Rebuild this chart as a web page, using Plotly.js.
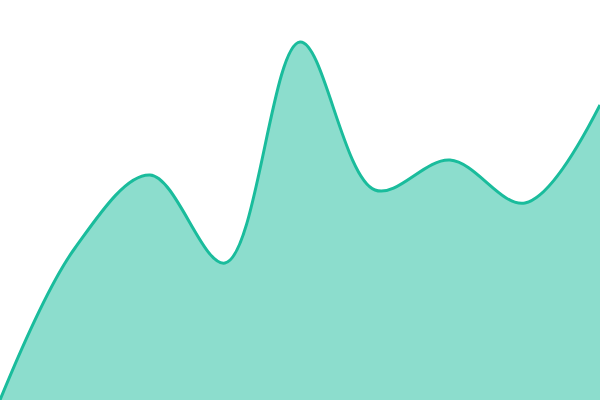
<!DOCTYPE html>
<html>
<head>
<meta charset="utf-8">
<script src="https://cdn.plot.ly/plotly-3.0.1.min.js"></script>
<style>
  html, body { margin: 0; padding: 0; background: #fff; }
  #chart { width: 600px; height: 400px; }
</style>
</head>
<body>
<div id="chart"></div>
<script>
// one point per step along the x axis
const steps = [0, 1, 2, 3, 4, 5, 6, 7, 8];
const values = [0, 152, 225, 137, 358, 210, 240, 197, 295];

const trace = {
  x: steps,
  y: values,
  type: "scatter",
  mode: "lines",
  fill: "tozeroy",
  fillcolor: "rgba(26, 188, 156, 0.5)",
  line: { color: "#1abc9c", width: 3, shape: "spline", smoothing: 1 },
  hoverinfo: "none",
};

const layout = {
  width: 600,
  height: 400,
  margin: { t: 0, b: 0, l: 0, r: 0 },
  paper_bgcolor: "#fff",
  plot_bgcolor: "#fff",
  showlegend: false,
  xaxis: { range: [0, 8], visible: false, fixedrange: true },
  yaxis: { range: [0, 400], visible: false, fixedrange: true },
};

Plotly.newPlot("chart", [trace], layout, { displayModeBar: false, staticPlot: true });
</script>
</body>
</html>
